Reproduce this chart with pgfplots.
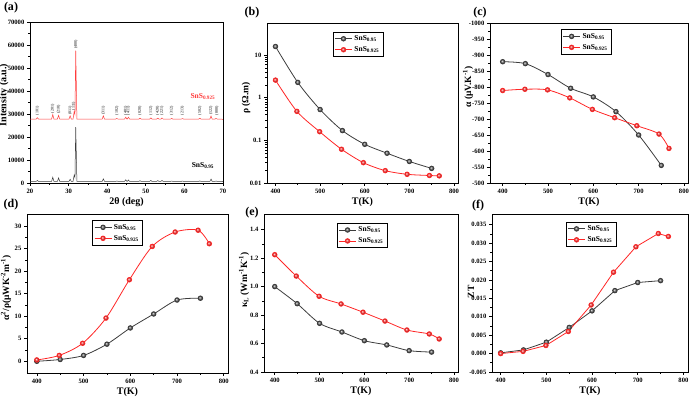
\documentclass[border=0pt]{standalone}
\usepackage{fontspec}
\setmainfont{Liberation Serif}
\usepackage{pgfplots}
\pgfplotsset{compat=1.18}

\definecolor{blkline}{HTML}{3C3C3C}
\definecolor{redline}{HTML}{FF2626}
\definecolor{blkball}{HTML}{6A6A6A}
\definecolor{redball}{HTML}{FF4545}
\definecolor{xrdred}{HTML}{FF3B3B}

\newcommand{\sns}[1]{SnS\textsubscript{#1}}

\tikzset{
  hkl/.style={font=\fontsize{4}{4}\selectfont, rotate=90, anchor=west, inner sep=0.3pt},
  ylab/.style={rotate=90, anchor=center, inner sep=0pt, font=\bfseries\fontsize{9.5}{11}\selectfont},
  plab/.style={font=\bfseries\fontsize{12}{14}\selectfont},
}

\pgfplotsset{
  panel/.style={
    scale only axis, anchor=south west,
    axis line style={line width=0.8pt},
    every tick/.style={black, line width=0.6pt},
    major tick length=3pt, minor tick length=1.8pt,
    tick align=outside, tick pos=left,
    /pgf/number format/assume math mode=true,
    /pgf/number format/1000 sep={},
    ticklabel style={font=\bfseries\fontsize{6.6}{8}\selectfont, inner sep=2.5pt},
    xlabel style={font=\bfseries\fontsize{10}{12}\selectfont, yshift=1.5pt},
    legend style={draw=black, line width=0.5pt, fill=white,
      font=\bfseries\fontsize{7.5}{9}\selectfont,
      inner sep=1.5pt, row sep=0.5pt, anchor=north},
    legend cell align=left,
  },
  sblk/.style={blkline, line width=0.8pt, mark=ball, mark size=2.3pt,
    mark options={ball color=blkball}},
  sred/.style={redline, line width=0.8pt, mark=ball, mark size=2.3pt,
    mark options={ball color=redball}},
}

\begin{document}
\begin{tikzpicture}
\path[use as bounding box] (0,0) rectangle (690pt,398pt);

% ---------------- (a) XRD patterns ----------------
\begin{axis}[panel, at={(30pt,215pt)}, width=193pt, height=161pt,
  xmin=20, xmax=70, ymin=0, ymax=70000,
  xtick={20,30,...,70}, minor x tick num=1,
  ytick={0,10000,...,70000}, minor y tick num=1,
  scaled y ticks=false,
  xlabel={2θ (deg)}]
\addplot[xrdred, line width=0.5pt] coordinates {
 (20,27800) (21.6,27800) (21.9,28400) (22.2,27800)
 (25.6,27800) (25.9,29800) (26.2,27800)
 (27.1,27800) (27.4,29400) (27.7,27800)
 (30.1,27800) (30.4,29200) (30.7,27800)
 (31.15,27800) (31.45,31100) (31.65,29800) (31.85,57600) (32.15,27800)
 (38.7,27800) (39.0,29200) (39.3,27800)
 (42.2,27800) (42.5,28050) (42.8,27800)
 (44.5,27800) (44.8,28600) (45.1,27800)
 (45.2,27800) (45.5,28600) (45.8,27800)
 (48.2,27800) (48.5,28200) (48.8,27800)
 (51.0,27800) (51.3,28300) (51.6,27800)
 (52.8,27800) (53.1,28200) (53.4,27800)
 (53.9,27800) (54.2,28300) (54.5,27800)
 (56.4,27800) (56.7,28050) (57.0,27800)
 (59.2,27800) (59.5,28000) (59.8,27800)
 (63.7,27800) (64.0,28150) (64.3,27800)
 (66.6,27800) (66.9,29100) (67.2,27800)
 (67.9,27800) (68.2,28050) (68.5,27800) (70,27700)};
\addplot[blkline, line width=0.5pt] coordinates {
 (20,700) (21.6,700) (21.9,1100) (22.2,700)
 (25.6,700) (25.9,2500) (26.2,700)
 (27.1,700) (27.4,2200) (27.7,700)
 (30.1,700) (30.4,1600) (30.7,700)
 (31.15,700) (31.45,3500) (31.65,2400) (31.85,24300) (32.15,700)
 (38.7,700) (39.0,1800) (39.3,700)
 (42.2,700) (42.5,850) (42.8,700)
 (44.5,700) (44.8,1400) (45.1,700)
 (45.2,700) (45.5,1300) (45.8,700)
 (48.2,700) (48.5,1000) (48.8,700)
 (51.0,700) (51.3,1100) (51.6,700)
 (52.8,700) (53.1,1050) (53.4,700)
 (53.9,700) (54.2,1100) (54.5,700)
 (56.4,700) (56.7,850) (57.0,700)
 (59.2,700) (59.5,850) (59.8,700)
 (63.7,700) (64.0,900) (64.3,700)
 (66.6,700) (66.9,1700) (67.2,700)
 (67.9,700) (68.2,850) (68.5,700) (70,650)};
% Miller indices of the reflections
\node[hkl] at (axis cs:21.9,29300) {(101)};
\node[hkl] at (axis cs:25.9,30200) {(201)};
\node[hkl] at (axis cs:27.4,29800) {(210)};
\node[hkl] at (axis cs:30.4,29600) {(011)};
\node[hkl] at (axis cs:31.3,31500) {(111)};
\node[hkl] at (axis cs:31.9,58200) {(400)};
\node[hkl] at (axis cs:39.0,29600) {(311)};
\node[hkl] at (axis cs:42.5,29300) {(102)};
\node[hkl] at (axis cs:44.8,29300) {(401)};
\node[hkl] at (axis cs:45.5,29300) {(411)};
\node[hkl] at (axis cs:48.5,29300) {(020)};
\node[hkl] at (axis cs:51.3,29300) {(112)};
\node[hkl] at (axis cs:53.1,29300) {(420)};
\node[hkl] at (axis cs:54.2,29300) {(221)};
\node[hkl] at (axis cs:56.7,29300) {(312)};
\node[hkl] at (axis cs:59.5,29300) {(213)};
\node[hkl] at (axis cs:64.0,29300) {(502)};
\node[hkl] at (axis cs:66.9,29500) {(122)};
\node[hkl] at (axis cs:68.4,29300) {(800)};
\node[font=\bfseries\fontsize{7.5}{9}\selectfont, text=xrdred] at (axis cs:64.8,37400) {\sns{0.925}};
\node[font=\bfseries\fontsize{7.5}{9}\selectfont] at (axis cs:64.8,7400) {\sns{0.95}};
\end{axis}

% ---------------- (b) electrical resistivity ----------------
\begin{axis}[panel, at={(267pt,215pt)}, width=191pt, height=160pt,
  xmin=381, xmax=809, ymode=log, ymin=0.01, ymax=57,
  xtick={400,500,...,800}, minor x tick num=1,
  ytick={0.01,0.1,1,10}, yticklabels={0.01,0.1,1,10},
  xlabel={T(K)},
  legend style={at={(0.476,0.945)}}]
\addplot[sblk, smooth] coordinates {
 (400,16) (450,2.3) (500,0.53) (550,0.17) (600,0.081) (650,0.050) (700,0.032) (750,0.022)};
\addplot[sred, smooth] coordinates {
 (400,2.6) (448,0.48) (499,0.16) (548,0.062) (597,0.030) (646,0.0195) (695,0.016) (745,0.015) (767,0.0147)};
\legend{\sns{0.95},\sns{0.925}}
\end{axis}

% ---------------- (c) Seebeck coefficient ----------------
\begin{axis}[panel, at={(490pt,215pt)}, width=198pt, height=160pt,
  xmin=372, xmax=809, ymin=-1000, ymax=-500, y dir=reverse,
  xtick={400,500,...,800}, minor x tick num=1,
  ytick={-1000,-950,...,-500}, minor y tick num=1,
  xlabel={T(K)},
  legend style={at={(0.485,0.96)}}]
\addplot[sblk, smooth] coordinates {
 (400,-879) (450,-873) (500,-839) (550,-796) (600,-769) (650,-723) (700,-650) (750,-555)};
\addplot[sred, smooth] coordinates {
 (400,-789) (449,-793) (499,-791) (548,-766) (598,-730) (647,-704) (696,-679) (745,-653) (767,-608)};
\legend{\sns{0.95},\sns{0.925}}
\end{axis}

% ---------------- (d) power factor ----------------
\begin{axis}[panel, at={(27pt,25pt)}, width=201pt, height=159pt,
  xmin=379, xmax=809, ymin=-2.6, ymax=32.7,
  xtick={400,500,...,800}, minor x tick num=1,
  ytick={0,5,...,30}, minor y tick num=1,
  xlabel={T(K)},
  legend style={at={(0.45,0.96)}}]
\addplot[sblk, smooth] coordinates {
 (400,0.0) (450,0.4) (500,1.3) (550,3.8) (600,7.4) (650,10.5) (700,13.6) (750,14.0)};
\addplot[sred, smooth] coordinates {
 (400,0.3) (448,1.3) (498,4.0) (548,9.6) (598,18.1) (647,25.5) (696,28.7) (745,29.1) (769,26.1)};
\legend{\sns{0.95},\sns{0.925}}
\end{axis}

% ---------------- (e) lattice thermal conductivity ----------------
\begin{axis}[panel, at={(264pt,26pt)}, width=194pt, height=158pt,
  xmin=376, xmax=809, ymin=0.4, ymax=1.51,
  xtick={400,500,...,800}, minor x tick num=1,
  ytick={0.4,0.6,0.8,1.0,1.2,1.4}, minor y tick num=1,
  yticklabel style={/pgf/number format/.cd, fixed, fixed zerofill, precision=1},
  xlabel={T(K)},
  legend style={at={(0.505,0.943)}}]
\addplot[sblk, smooth] coordinates {
 (400,1.00) (450,0.88) (500,0.742) (550,0.681) (600,0.620) (650,0.590) (700,0.550) (750,0.540)};
\addplot[sred, smooth] coordinates {
 (400,1.224) (448,1.074) (499,0.932) (548,0.878) (597,0.820) (646,0.758) (695,0.695) (745,0.667) (767,0.632)};
\legend{\sns{0.95},\sns{0.925}}
\end{axis}

% ---------------- (f) figure of merit ----------------
\begin{axis}[panel, at={(492pt,26pt)}, width=196pt, height=158pt,
  xmin=381, xmax=810, ymin=-0.005, ymax=0.0379,
  xtick={400,500,...,800}, minor x tick num=1,
  ytick={-0.005,0,0.005,0.010,0.015,0.020,0.025,0.030,0.035}, minor y tick num=1,
  scaled y ticks=false,
  yticklabel style={/pgf/number format/.cd, fixed, fixed zerofill, precision=3},
  xlabel={T(K)},
  legend style={at={(0.505,0.95)}}]
\addplot[sblk] coordinates {
 (400,0.0002) (450,0.0010) (500,0.0031) (550,0.0071) (600,0.0116) (650,0.0171) (700,0.0193) (750,0.0198)};
\addplot[sred] coordinates {
 (400,0.0000) (449,0.0006) (499,0.0022) (548,0.0060) (598,0.0132) (647,0.0221) (696,0.0290) (745,0.0326) (767,0.0318)};
\legend{\sns{0.95},\sns{0.925}}
\end{axis}

% y-axis titles
\node[ylab, font=\bfseries\fontsize{10}{12}\selectfont] at (4pt,303pt) {Intensity (a.u.)};
\node[ylab] at (246pt,300pt) {ρ (Ω.m)};
\node[ylab] at (468pt,311pt) {α (μV.K\textsuperscript{-1})};
\node[ylab] at (6pt,110pt) {α\textsuperscript{2}/ρ(μWK\textsuperscript{-2}m\textsuperscript{-1})};
\node[ylab] at (244pt,118pt) {κ\textsubscript{L} (Wm\textsuperscript{-1}K\textsuperscript{-1})};
\node[ylab] at (471pt,106pt) {ZT};

% panel letters
\node[plab] at (11pt,390pt) {(a)};
\node[plab] at (252pt,385pt) {(b)};
\node[plab] at (480pt,385pt) {(c)};
\node[plab] at (11pt,193pt) {(d)};
\node[plab] at (252pt,185pt) {(e)};
\node[plab] at (478pt,192pt) {(f)};
\end{tikzpicture}
\end{document}
